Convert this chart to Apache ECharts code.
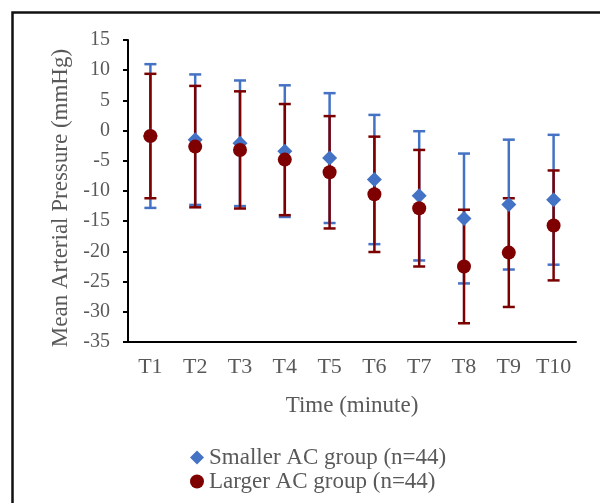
<!DOCTYPE html>
<html>
<head>
<meta charset="utf-8">
<script src="https://cdn.jsdelivr.net/npm/echarts@6/dist/echarts.min.js"></script>
<style>
html,body{margin:0;padding:0;background:#fff;}
#chart{width:600px;height:503px;}
</style>
</head>
<body>
<div id="chart"></div>
<script>
var categories = ['T1','T2','T3','T4','T5','T6','T7','T8','T9','T10'];
var smallerMean = [-0.9, -1.5, -2.1, -3.4, -4.55, -8.1, -10.8, -14.55, -12.25, -11.45];
var smallerSD   = [11.9, 10.8, 10.4, 10.9, 10.75, 10.7, 10.7, 10.75, 10.75, 10.75];
var largerMean  = [-0.9, -2.65, -3.2, -4.8, -6.9, -10.55, -12.85, -22.5, -20.2, -15.7];
var largerSD    = [10.3, 10.05, 9.7, 9.2, 9.3, 9.55, 9.65, 9.4, 9.0, 9.1];
var yTicks = {min: -35, max: 15, interval: 5};
var seriesNames = ['Smaller AC group (n=44)', 'Larger AC group (n=44)'];

var BLUE = '#4472C4';
var RED = '#7F0000';
var TEXT = '#595959';
var FONT = '"Liberation Serif", "DejaVu Serif", serif';

function errSeries(name, mean, sd, color, z) {
  return {
    type: 'custom',
    name: name + ' err',
    z: z,
    silent: true,
    encode: {x: 0, y: [1, 2]},
    data: categories.map(function (c, i) { return [i, mean[i] - sd[i], mean[i] + sd[i]]; }),
    renderItem: function (params, api) {
      var lo = api.coord([api.value(0), api.value(1)]);
      var hi = api.coord([api.value(0), api.value(2)]);
      var w = 6;
      var st = {stroke: color, lineWidth: 2.5};
      return {
        type: 'group',
        children: [
          {type: 'line', shape: {x1: lo[0], y1: lo[1], x2: hi[0], y2: hi[1]}, style: st},
          {type: 'line', shape: {x1: hi[0] - w, y1: hi[1], x2: hi[0] + w, y2: hi[1]}, style: st},
          {type: 'line', shape: {x1: lo[0] - w, y1: lo[1], x2: lo[0] + w, y2: lo[1]}, style: st}
        ]
      };
    }
  };
}

function legendItem(name, icon, top) {
  return {
    orient: 'vertical',
    left: 190, top: top, padding: 0,
    itemWidth: 14, itemHeight: 14, itemGap: 0,
    textStyle: {color: TEXT, fontSize: 23, fontFamily: FONT},
    data: [{name: name, icon: icon}]
  };
}

var chart = echarts.init(document.getElementById('chart'), null, {renderer: 'canvas'});
chart.setOption({
  animation: false,
  backgroundColor: '#fff',
  graphic: [{
    type: 'rect', left: 10, top: 10, z: 100,
    shape: {x: 0, y: 0, width: 700, height: 600},
    style: {fill: 'none', stroke: '#111', lineWidth: 2.5}
  }],
  grid: {left: 128, right: 24, top: 40, bottom: 161},
  legend: [
    legendItem(seriesNames[0], 'diamond', 446),
    legendItem(seriesNames[1], 'circle', 470)
  ],
  xAxis: {
    type: 'category',
    data: categories,
    name: 'Time (minute)',
    nameLocation: 'middle',
    nameGap: 52,
    nameTextStyle: {color: TEXT, fontSize: 23, fontFamily: FONT},
    axisLine: {onZero: false, lineStyle: {color: '#000', width: 2}},
    axisTick: {alignWithLabel: true, interval: 0, length: 5, lineStyle: {color: '#000', width: 2}},
    axisLabel: {color: TEXT, fontSize: 22, fontFamily: FONT, margin: 14, interval: 0},
    splitLine: {show: false}
  },
  yAxis: {
    type: 'value',
    min: yTicks.min, max: yTicks.max, interval: yTicks.interval,
    name: 'Mean Arterial Pressure (mmHg)',
    nameLocation: 'middle',
    nameRotate: 90,
    nameGap: 56,
    nameTextStyle: {color: TEXT, fontSize: 23, fontFamily: FONT, padding: [0, 14, 0, 0]},
    axisLine: {show: true, lineStyle: {color: '#000', width: 2}},
    axisTick: {show: true, length: 5, lineStyle: {color: '#000', width: 2}},
    axisLabel: {color: TEXT, fontSize: 20, fontFamily: FONT, margin: 18},
    splitLine: {show: false}
  },
  series: [
    errSeries('Smaller', smallerMean, smallerSD, BLUE, 2),
    errSeries('Larger', largerMean, largerSD, '#7B0000', 3),
    {
      type: 'scatter', name: seriesNames[0], z: 4,
      symbol: 'diamond', symbolSize: [15, 15],
      itemStyle: {color: BLUE, opacity: 1},
      data: smallerMean
    },
    {
      type: 'scatter', name: seriesNames[1], z: 5,
      symbol: 'circle', symbolSize: 14,
      itemStyle: {color: RED, opacity: 1},
      data: largerMean
    }
  ]
});
</script>
</body>
</html>
